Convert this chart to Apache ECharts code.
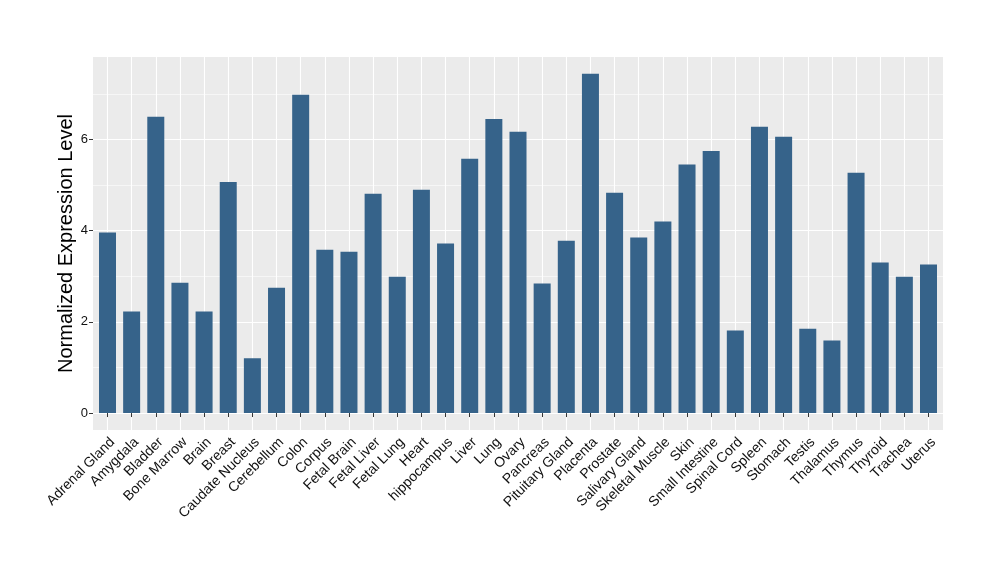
<!DOCTYPE html>
<html><head><meta charset="utf-8">
<script src="https://cdn.jsdelivr.net/npm/echarts@6/dist/echarts.min.js"></script>
<style>html,body{margin:0;padding:0;background:#fff}#c{width:1000px;height:580px}</style>
</head><body><div id="c"></div>
<script>
const categories = ["Adrenal Gland","Amygdala","Bladder","Bone Marrow","Brain","Breast","Caudate Nucleus","Cerebellum","Colon","Corpus","Fetal Brain","Fetal Liver","Fetal Lung","Heart","hippocampus","Liver","Lung","Ovary","Pancreas","Pituitary Gland","Placenta","Prostate","Salivary Gland","Skeletal Muscle","Skin","Small Intestine","Spinal Cord","Spleen","Stomach","Testis","Thalamus","Thymus","Thyroid","Trachea","Uterus"];
const values = [3.96,2.23,6.50,2.86,2.23,5.07,1.20,2.75,6.98,3.58,3.54,4.81,2.99,4.90,3.72,5.58,6.45,6.17,2.84,3.78,7.44,4.83,3.85,4.20,5.45,5.75,1.81,6.28,6.06,1.85,1.59,5.27,3.30,2.99,3.26];
const yTicks = [0,2,4,6];
const yMinorTicks = [1,3,5,7];
const yMin = -0.372, yMax = 7.81;
const yTitle = "Normalized Expression Level";

const FONT = "Liberation Sans, Arial, sans-serif";
const chart = echarts.init(document.getElementById('c'), null, {renderer:'canvas'});
chart.setOption({
  animation:false,
  backgroundColor:'#ffffff',
  grid:[
    {left:93, right:57, top:57, bottom:150, show:true, backgroundColor:'#EBEBEB', borderWidth:0},
    {left:107.5, right:71.5, top:57, bottom:150, show:false}
  ],
  xAxis:[
    {gridIndex:0, type:'value', min:0, max:1, show:false},
    {gridIndex:1, type:'category', data:categories, boundaryGap:false,
     axisLine:{show:false},
     axisTick:{show:true, length:4, lineStyle:{color:'#333333', width:1}},
     axisLabel:{rotate:45, interval:0, margin:5, fontSize:14, color:'#111111', fontFamily:FONT,
                align:'right', verticalAlign:'top'},
     splitLine:{show:true, lineStyle:{color:'#FFFFFF', width:1.1}}
    }
  ],
  yAxis:[
    {gridIndex:0, type:'value', min:yMin, max:yMax,
     name:yTitle, nameLocation:'middle', nameGap:17, nameMoveOverlap:false,
     nameTextStyle:{fontSize:20, color:'#000000', fontFamily:FONT},
     axisLine:{show:false},
     axisTick:{show:true, length:4, customValues:yTicks, lineStyle:{color:'#333333'}},
     axisLabel:{customValues:yTicks, fontSize:13, color:'#111111', margin:5, fontFamily:FONT},
     splitLine:{show:true, lineStyle:{color:'#FFFFFF', width:1.1}}
    },
    {gridIndex:0, type:'value', min:yMin, max:yMax,
     axisLine:{show:false},
     axisTick:{show:false, customValues:yMinorTicks},
     axisLabel:{show:false, customValues:yMinorTicks},
     splitLine:{show:true, lineStyle:{color:'#FFFFFF', width:0.55}}
    },
    {gridIndex:1, type:'value', min:yMin, max:yMax, show:false, splitLine:{show:false}}
  ],
  series:[
    {type:'bar', xAxisIndex:1, yAxisIndex:2, data:values, barWidth:17,
     itemStyle:{color:'#36638A'}, silent:true}
  ]
});
</script>
</body></html>
